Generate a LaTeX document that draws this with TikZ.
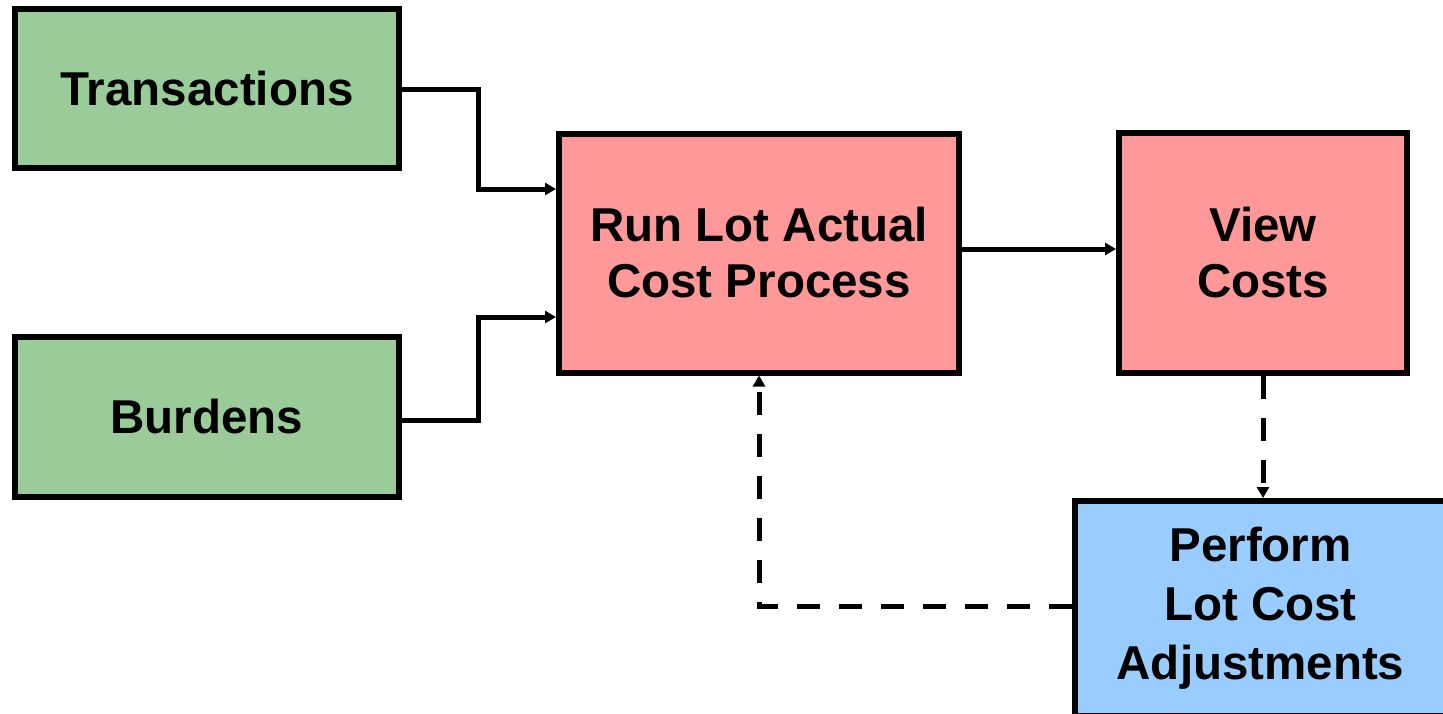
\documentclass[tikz,border=0pt]{standalone}
\usepackage{fontspec}
\setmainfont{Liberation Sans}
\usetikzlibrary{arrows.meta}
\definecolor{boxgreen}{HTML}{99CC99}
\definecolor{boxpink}{HTML}{FF9999}
\definecolor{boxblue}{HTML}{99CCFF}
\begin{document}
\begin{tikzpicture}[x=0.5pt,y=-0.5pt,
  box/.style={draw=black,line width=3pt,rectangle,align=center,inner sep=0pt,
    font=\fontsize{23.75pt}{28pt}\selectfont\bfseries},
  conn/.style={line width=2.5pt,-{Triangle[length=5.5pt,width=6pt]}},
  dconn/.style={conn,dash pattern=on 11.5pt off 9.5pt}]
\useasboundingbox (0,0) rectangle (1443,713);
\node[box,fill=boxgreen,minimum width=192pt,minimum height=79.5pt] (trans) at (207,88.5) {Transactions};
\node[box,fill=boxgreen,minimum width=192pt,minimum height=80pt] (burd) at (207,417) {Burdens};
\node[box,fill=boxpink,minimum width=200pt,minimum height=119.5pt] (run) at (759,253) {Run Lot Actual\\Cost Process};
\node[box,fill=boxpink,minimum width=144pt,minimum height=120pt] (view) at (1263,253) {View\\Costs};
\node[box,fill=boxblue,minimum width=185.5pt,minimum height=107.5pt,
  font=\fontsize{23.75pt}{29.5pt}\selectfont\bfseries] (perf) at (1260.5,608.5) {Perform\\Lot Cost\\Adjustments};
\coordinate (t1) at (478,89);
\coordinate (t2) at (478,189);
\coordinate (b1) at (478,420);
\coordinate (b2) at (478,317);
\coordinate (rv) at (1000,249);
\coordinate (pr) at (759,606);
\draw[conn] (trans.east |- t1) -- (t1) -- (t2) -- (run.west |- t2);
\draw[conn] (burd.east |- b1) -- (b1) -- (b2) -- (run.west |- b2);
\draw[conn] (run.east |- rv) -- (view.west |- rv);
\draw[dconn] (view.south) -- (view.south |- perf.north);
\draw[dconn] (perf.west |- pr) -- (pr) -- (run.south);
\end{tikzpicture}
\end{document}
